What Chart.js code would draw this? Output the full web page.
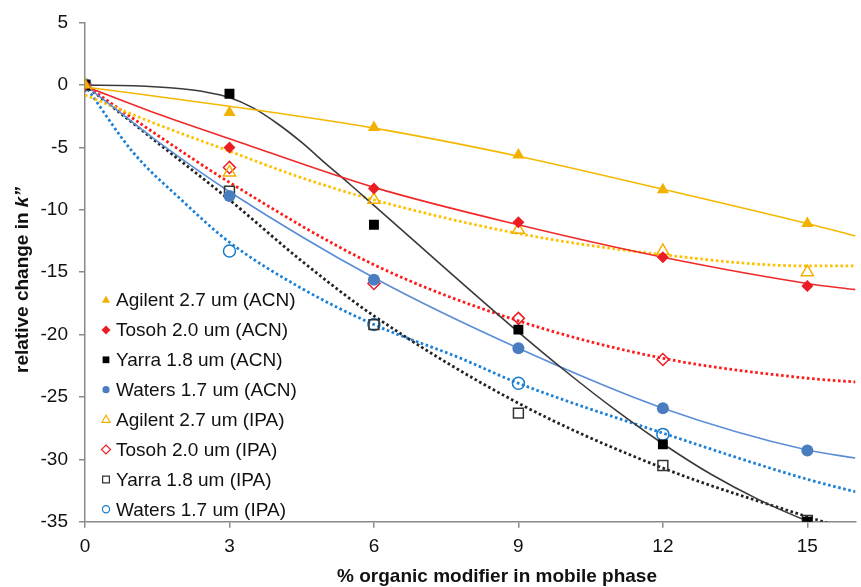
<!DOCTYPE html>
<html>
<head>
<meta charset="utf-8">
<script src="https://cdn.jsdelivr.net/npm/chart.js@4.4.1/dist/chart.umd.min.js"></script>
<style>
  html, body { margin: 0; padding: 0; background: #fff; overflow: hidden; }
</style>
</head>
<body>
<canvas id="chart" width="864" height="587"></canvas>
<script>
// % organic modifier (x) and measured relative change in k'' per column / solvent
const modifier = [0, 3, 6, 9, 12, 15];
const agilentACN = [0, -2.2, -3.4, -5.6, -8.4, -11.1];
const tosohACN = [0, -5.0, -8.3, -11.0, -13.8, -16.1];
const yarraACN = [0, -0.7, -11.2, -19.6, -28.8, -35.0];
const watersACN = [0, -8.9, -15.6, -21.1, -25.9, -29.3];
const agilentIPA = [0, -7.0, -9.2, -11.6, -13.3, -15.0];
const tosohIPA = [0, -6.6, -15.9, -18.7, -22.0, null];
const yarraIPA = [0, -8.5, -19.2, -26.3, -30.5, -34.9];
const watersIPA = [0, -13.3, -19.2, -23.9, -28.0, null];

// trendlines (x, y pairs)
const agilentACNTrendX = [0, 3, 6, 9, 12, 15, 16];
const agilentACNTrendY = [-0.15, -1.7, -3.45, -5.7, -8.35, -11.1, -12.1];
const tosohACNTrendX = [0, 1.5, 3, 6, 9, 12, 15, 16];
const tosohACNTrendY = [-0.1, -2.3, -4.3, -8.2, -11.2, -13.8, -15.9, -16.4];
const yarraACNTrendX = [0, 1, 2, 2.5, 3, 3.5, 4, 4.5, 5, 5.5, 6, 7, 8, 9, 10, 11, 12, 13, 14, 15, 16];
const yarraACNTrendY = [0, -0.05, -0.3, -0.55, -1.0, -1.85, -3.1, -4.6, -6.3, -7.95, -9.65, -13.05, -16.45,
  -19.8, -23.0, -26.0, -28.75, -31.2, -33.25, -34.95, -36.4];
const watersACNTrendX = [0, 1.5, 3, 6, 9, 12, 15, 16];
const watersACNTrendY = [0, -4.5, -8.55, -15.45, -21.1, -25.9, -29.26, -29.9];
const agilentIPATrendX = [0, 1.5, 3, 4.4, 6, 9, 12, 15, 16];
const agilentIPATrendY = [-0.8, -3.15, -5.3, -7.3, -9.2, -11.9, -13.6, -14.5, -14.5];
const tosohIPATrendX = [0, 1.5, 3, 6, 9, 12, 15, 16];
const tosohIPATrendY = [0, -4.0, -7.8, -14.4, -18.9, -21.9, -23.5, -23.8];
const yarraIPATrendX = [0, 1.5, 3, 4.5, 6, 9, 12, 15, 16];
const yarraIPATrendY = [0, -4.6, -9.2, -14.1, -18.5, -25.5, -30.7, -34.6, -35.8];
const watersIPATrendX = [0, 1, 2, 3, 4.5, 6, 7.8, 9, 12, 15, 16];
const watersIPATrendY = [0, -5.4, -9.2, -12.6, -16.3, -19.2, -21.9, -23.9, -27.9, -31.6, -32.6];

const xTickStep = 3;
const yTickStep = 5;

const labels = [
  "Agilent 2.7 um (ACN)", "Tosoh 2.0 um (ACN)", "Yarra 1.8 um (ACN)", "Waters 1.7 um (ACN)",
  "Agilent 2.7 um (IPA)", "Tosoh 2.0 um (IPA)", "Yarra 1.8 um (IPA)", "Waters 1.7 um (IPA)"
];
const values = [agilentACN, tosohACN, yarraACN, watersACN, agilentIPA, tosohIPA, yarraIPA, watersIPA];
const trends = [
  [agilentACNTrendX, agilentACNTrendY], [tosohACNTrendX, tosohACNTrendY],
  [yarraACNTrendX, yarraACNTrendY], [watersACNTrendX, watersACNTrendY],
  [agilentIPATrendX, agilentIPATrendY], [tosohIPATrendX, tosohIPATrendY],
  [yarraIPATrendX, yarraIPATrendY], [watersIPATrendX, watersIPATrendY]
];

const FONT = "'Liberation Sans', Arial, sans-serif";

const styles = [
  { shape: "triangle", color: "#F2B100", filled: true, r: 7, line: "#F5B800", dotted: false },
  { shape: "rectRot", color: "#EC1C24", filled: true, r: 6, line: "#F02A2A", dotted: false },
  { shape: "rect", color: "#000000", filled: true, r: 7, line: "#3a3a3a", dotted: false },
  { shape: "circle", color: "#4A7DBF", filled: true, r: 6, line: "#5B8ED6", dotted: false },
  { shape: "triangle", color: "#F2B100", filled: false, r: 7, line: "#FFC000", dotted: true },
  { shape: "rectRot", color: "#EC1C24", filled: false, r: 6, line: "#FF1A1A", dotted: true },
  { shape: "rect", color: "#333333", filled: false, r: 7, line: "#222222", dotted: true },
  { shape: "circle", color: "#1A7BCB", filled: false, r: 6, line: "#1C80D6", dotted: true }
];

function points(xs, ys) {
  const out = [];
  ys.forEach((v, i) => { if (v !== null) out.push({ x: xs[i], y: v }); });
  return out;
}

function drawMarker(ctx, st, x, y, r, lw) {
  ctx.save();
  ctx.beginPath();
  if (st.shape === "triangle") {
    ctx.moveTo(x, y - r);
    ctx.lineTo(x + r * 0.9, y + r * 0.6);
    ctx.lineTo(x - r * 0.9, y + r * 0.6);
    ctx.closePath();
  } else if (st.shape === "rectRot") {
    ctx.moveTo(x, y - r);
    ctx.lineTo(x + r, y);
    ctx.lineTo(x, y + r);
    ctx.lineTo(x - r, y);
    ctx.closePath();
  } else if (st.shape === "rect") {
    const s = r * 0.75;
    ctx.rect(x - s, y - s, 2 * s, 2 * s);
  } else {
    ctx.arc(x, y, r * 0.8, 0, Math.PI * 2);
  }
  if (st.filled) {
    ctx.fillStyle = st.color;
    ctx.fill();
  } else {
    ctx.lineWidth = lw;
    ctx.strokeStyle = st.color;
    ctx.stroke();
  }
  ctx.restore();
}

// legend inside the plot + axis titles (k'' in italics)
const extras = {
  id: "extras",
  afterDraw(chart) {
    const { ctx } = chart;
    ctx.save();
    ctx.font = "19px " + FONT;
    ctx.fillStyle = "#111";
    ctx.textBaseline = "middle";
    labels.forEach((lab, i) => {
      const y = 300 + i * 29.9;
      drawMarker(ctx, styles[i], 106, y, 4.5, 1.2);
      ctx.fillText(lab, 116, y + 1);
    });
    ctx.font = "bold 19px " + FONT;
    ctx.textAlign = "center";
    ctx.fillText("% organic modifier in mobile phase", 497, 577);
    ctx.translate(23, 280);
    ctx.rotate(-Math.PI / 2);
    const a = "relative change in ", b = "k\u201D";
    const wa = ctx.measureText(a).width;
    ctx.font = "italic bold 19px " + FONT;
    const wb = ctx.measureText(b).width;
    ctx.textAlign = "left";
    ctx.font = "bold 19px " + FONT;
    ctx.fillText(a, -(wa + wb) / 2, 0);
    ctx.font = "italic bold 19px " + FONT;
    ctx.fillText(b, -(wa + wb) / 2 + wa, 0);
    ctx.restore();
  }
};

const markerSets = values.map((arr, i) => {
  const st = styles[i];
  return {
    type: "scatter",
    label: labels[i],
    data: points(modifier, arr),
    order: 0,
    pointStyle: st.shape,
    pointRadius: st.r,
    pointHoverRadius: st.r,
    pointBackgroundColor: st.filled ? st.color : "rgba(0,0,0,0)",
    pointBorderColor: st.color,
    pointBorderWidth: st.filled ? 0 : 1.5,
    showLine: false
  };
});

const trendSets = trends.map((t, i) => {
  const st = styles[i];
  return {
    type: "line",
    label: labels[i] + " trend",
    data: points(t[0], t[1]),
    order: 1,
    borderColor: st.line,
    borderWidth: st.dotted ? 2.8 : 1.6,
    borderDash: st.dotted ? [2.6, 2.6] : [],
    cubicInterpolationMode: "monotone",
    pointRadius: 0,
    fill: false,
    clip: 0
  };
});

new Chart(document.getElementById("chart"), {
  type: "scatter",
  data: { datasets: trendSets.concat(markerSets) },
  options: {
    responsive: false,
    animation: false,
    layout: { padding: { top: 22.7, left: 0, right: 0, bottom: 0 } },
    plugins: { legend: { display: false }, tooltip: { enabled: false } },
    scales: {
      x: {
        type: "linear",
        min: 0,
        max: 16,
        ticks: { stepSize: xTickStep, includeBounds: false, padding: 8, color: "#111", font: { family: FONT, size: 19 } },
        grid: { drawOnChartArea: false, tickLength: 6, color: "#8a8a8a", lineWidth: 1.5 },
        border: { color: "#8a8a8a", width: 1.5 },
        afterFit(s) { s.height = 65.3; }
      },
      y: {
        min: -35,
        max: 5,
        ticks: { stepSize: yTickStep, padding: 11, color: "#111", font: { family: FONT, size: 19 } },
        grid: { drawOnChartArea: false, tickLength: 6, color: "#8a8a8a", lineWidth: 1.5 },
        border: { color: "#8a8a8a", width: 1.5 },
        afterFit(s) { s.width = 85; }
      }
    }
  },
  plugins: [extras]
});
</script>
</body>
</html>
